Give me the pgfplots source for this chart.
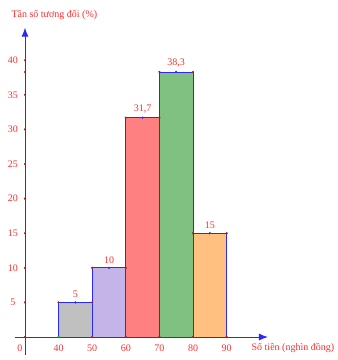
\documentclass[border=0pt]{standalone}
\usepackage{fontspec}
\setmainfont{Liberation Serif}
\usepackage{pgfplots}
\pgfplotsset{compat=1.18}
\usetikzlibrary{arrows.meta}
\definecolor{axblue}{RGB}{40,40,255}
\definecolor{lblred}{RGB}{255,45,45}
\definecolor{dotred}{RGB}{170,30,30}
\definecolor{cgray}{RGB}{192,192,192}
\definecolor{clav}{RGB}{196,180,232}
\definecolor{csal}{RGB}{255,128,128}
\definecolor{cgreen}{RGB}{128,192,128}
\definecolor{corange}{RGB}{255,192,128}
\begin{document}
\begin{tikzpicture}
\begin{axis}[scale only axis, width=334pt, height=360pt,
  xmin=22.56, xmax=121.96, ymin=-3.32, ymax=48.7,
  hide axis, clip=false]
\path (axis cs:22.56,-3.32) rectangle (axis cs:121.96,48.7);
% bars
\addplot[draw=axblue, fill=cgray, line width=0.7pt] coordinates {(40,0) (40,5) (50,5) (50,0)} -- cycle;
\addplot[draw=axblue, fill=clav, line width=0.7pt] coordinates {(50,0) (50,10) (60,10) (60,0)} -- cycle;
\addplot[draw=axblue, fill=csal, line width=0.7pt] coordinates {(60,0) (60,31.7) (70,31.7) (70,0)} -- cycle;
\addplot[draw=axblue, fill=cgreen, line width=0.7pt] coordinates {(70,0) (70,38.3) (80,38.3) (80,0)} -- cycle;
\addplot[draw=axblue, fill=corange, line width=0.7pt] coordinates {(80,0) (80,15) (90,15) (90,0)} -- cycle;
% axes
\draw[axblue, line width=0.9pt, -{Latex[length=9pt,width=7pt]}] (axis cs:27,0) -- (axis cs:102.3,0);
\draw[axblue, line width=0.9pt, -{Latex[length=9pt,width=7pt]}] (axis cs:30,-2.6) -- (axis cs:30,44.7);
% corner dots
\addplot[only marks, mark=*, mark size=0.9pt, dotred] coordinates {
(40,5) (50,5) (50,0) (50,10) (60,10) (60,0) (60,31.7) (70,31.7) (70,0)
(70,38.3) (80,38.3) (80,0) (80,15) (90,15) (90,0) (30,0)
(30,5) (30,10) (30,15) (30,20) (30,25) (30,30) (30,35) (30,40) (30,38.3)};
\addplot[only marks, mark=*, mark size=0.9pt, green!70!black] coordinates {(40,0)};
% midpoints with value labels
\addplot[only marks, mark=*, mark size=0.9pt, axblue,
  nodes near coords, point meta=explicit symbolic,
  every node near coord/.style={text=lblred, font=\fontsize{10}{12}\selectfont, anchor=south, yshift=1pt}]
  coordinates {(45,5)[5] (55,10)[10] (65,31.7)[{31,7}] (75,38.3)[{38,3}] (85,15)[15]};
% tick labels
\node[text=lblred, font=\fontsize{10}{12}\selectfont] at (axis cs:28.5,-1.6) {0};
\pgfplotsinvokeforeach{40,50,60,70,80,90}{\node[text=lblred, font=\fontsize{10}{12}\selectfont] at (axis cs:#1,-1.6) {#1};}
\pgfplotsinvokeforeach{5,10,15,20,25,30,35,40}{\node[text=lblred, font=\fontsize{10}{12}\selectfont] at (axis cs:26.4,#1) {#1};}
\node[anchor=west, text=lblred, font=\fontsize{10}{12}\selectfont] at (axis cs:24.94,46.5) {Tần số tương đối (\%)};
\node[anchor=west, text=lblred, font=\fontsize{10}{12}\selectfont] at (axis cs:96.4,-1.6) {Số tiền (nghìn đồng)};
\end{axis}
\end{tikzpicture}
\end{document}
